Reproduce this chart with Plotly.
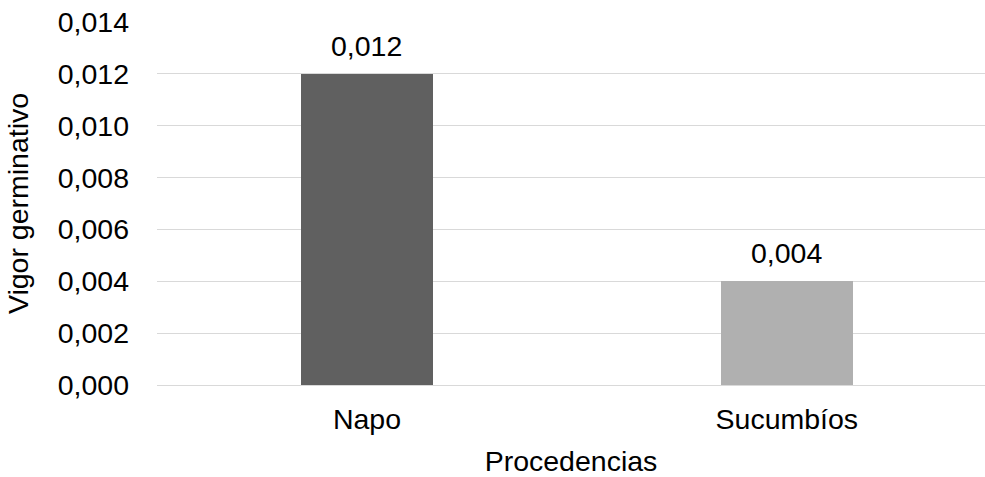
import plotly.graph_objects as go

# Germinative vigour by seed origin
procedencias = ["Napo", "Sucumbíos"]
vigor = [0.012, 0.004]
colores = ["#606060", "#b0b0b0"]
y_ticks = [0.000, 0.002, 0.004, 0.006, 0.008, 0.010, 0.012, 0.014]

FONT = "Liberation Sans, Arial, sans-serif"
SIZE = 28.5

def fmt(v):
    return f"{v:.3f}".replace(".", ",")

fig = go.Figure(
    go.Bar(
        x=procedencias,
        y=vigor,
        marker=dict(color=colores, line=dict(width=0)),
        width=0.314,
    )
)

# value labels above each bar
for cat, val in zip(procedencias, vigor):
    fig.add_annotation(
        x=cat, y=val, text=fmt(val), showarrow=False,
        yanchor="bottom", yshift=10,
        font=dict(family=FONT, size=SIZE, color="#000000"),
    )

fig.update_layout(
    width=985, height=477,
    margin=dict(l=157, r=0, t=22, b=92),
    paper_bgcolor="white", plot_bgcolor="white",
    font=dict(family=FONT, size=SIZE, color="#000000"),
    separators=",.",
    showlegend=False,
    bargap=0,
)
fig.update_xaxes(
    range=[-0.5, 1.472],
    showgrid=False, showline=False, zeroline=False, ticks="",
    ticklabelstandoff=14,
    title=dict(text="Procedencias", standoff=17,
               font=dict(family=FONT, size=SIZE, color="#000000")),
)
fig.update_yaxes(
    range=[0, 0.014],
    tickvals=y_ticks, ticktext=[fmt(v) for v in y_ticks],
    showgrid=True, gridcolor="#d9d9d9", gridwidth=1.3,
    zeroline=True, zerolinecolor="#d9d9d9", zerolinewidth=1.3,
    showline=False, ticks="",
    ticklabelstandoff=27,
    title=dict(text="Vigor germinativo", standoff=20,
               font=dict(family=FONT, size=SIZE, color="#000000")),
)

fig.write_html("out.html")
